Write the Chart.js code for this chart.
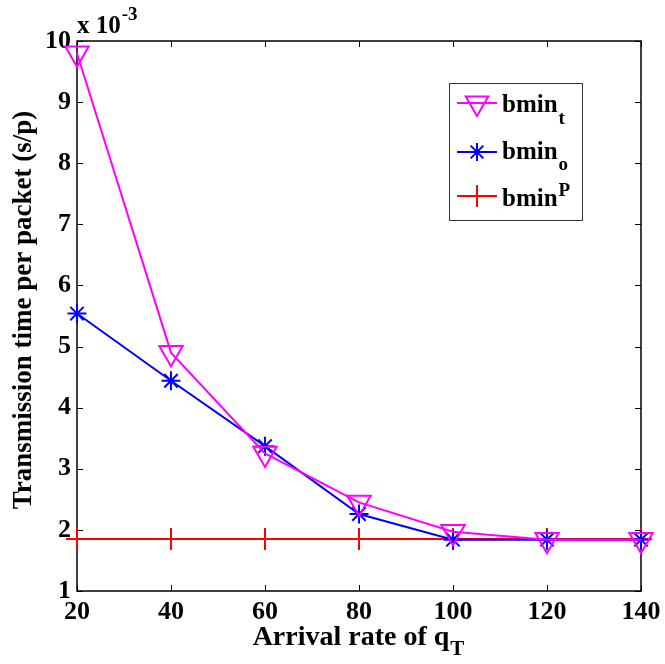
<!DOCTYPE html>
<html>
<head>
<meta charset="utf-8">
<script src="https://cdn.jsdelivr.net/npm/chart.js@4.4.1/dist/chart.umd.min.js"></script>
<style>
  html, body { margin: 0; padding: 0; background: #fff; }
  #wrap { width: 665px; height: 664px; position: relative; }
</style>
</head>
<body>
<div id="wrap"><canvas id="c" width="665" height="664"></canvas></div>
<script>
const arrivalRates = [20, 40, 60, 80, 100, 120, 140];
const bminT = [9.8, 4.9, 3.25, 2.45, 1.97, 1.84, 1.84];
const bminO = [5.54, 4.44, 3.37, 2.26, 1.84, 1.84, 1.84];
const bminP = [1.85, 1.85, 1.85, 1.85, 1.85, 1.85, 1.85];
const yTicks = [1, 2, 3, 4, 5, 6, 7, 8, 9, 10];
const xTicks = [20, 40, 60, 80, 100, 120, 140];

const SERIF = '"Liberation Serif", "Times New Roman", serif';
const MAGENTA = "#ff00ff";
const BLUE = "#0000ff";
const RED = "#ff0000";

function pts(ys) {
  return arrivalRates.map((x, i) => ({ x: x, y: ys[i] }));
}

// text with a sub/superscript tail, returns total width
function richText(ctx, x, y, base, tail, size, tailSize, tailDy, align) {
  ctx.font = "bold " + size + "px " + SERIF;
  const w1 = ctx.measureText(base).width;
  ctx.font = "bold " + tailSize + "px " + SERIF;
  const w2 = ctx.measureText(tail).width;
  let x0 = x;
  if (align === "center") x0 = x - (w1 + w2) / 2;
  ctx.textAlign = "left";
  ctx.textBaseline = "alphabetic";
  ctx.font = "bold " + size + "px " + SERIF;
  ctx.fillText(base, x0, y);
  ctx.font = "bold " + tailSize + "px " + SERIF;
  ctx.fillText(tail, x0 + w1 + 1, y + tailDy);
  return w1 + w2;
}

function marker(ctx, style, x, y, r, color) {
  ctx.save();
  ctx.strokeStyle = color;
  ctx.lineWidth = 2;
  ctx.beginPath();
  if (style === "tri") {
    ctx.moveTo(x - r * 0.866, y - r / 2);
    ctx.lineTo(x + r * 0.866, y - r / 2);
    ctx.lineTo(x, y + r);
    ctx.closePath();
  } else if (style === "star") {
    for (let k = 0; k < 4; k++) {
      const a = k * Math.PI / 4;
      ctx.moveTo(x - Math.cos(a) * r, y - Math.sin(a) * r);
      ctx.lineTo(x + Math.cos(a) * r, y + Math.sin(a) * r);
    }
  } else {
    ctx.moveTo(x - r, y); ctx.lineTo(x + r, y);
    ctx.moveTo(x, y - r); ctx.lineTo(x, y + r);
  }
  ctx.stroke();
  ctx.restore();
}

const decorations = {
  id: "decorations",
  beforeDatasetsDraw(chart) {
    const { ctx, chartArea: a, scales } = chart;
    ctx.save();
    ctx.strokeStyle = "#000";
    ctx.lineWidth = 1;
    const tl = 6;
    ctx.beginPath();
    xTicks.forEach(v => {
      const px = Math.round(scales.x.getPixelForValue(v)) + 0.5;
      ctx.moveTo(px, a.bottom); ctx.lineTo(px, a.bottom - tl);
      ctx.moveTo(px, a.top); ctx.lineTo(px, a.top + tl);
    });
    yTicks.forEach(v => {
      const py = Math.round(scales.y.getPixelForValue(v)) + 0.5;
      ctx.moveTo(a.left, py); ctx.lineTo(a.left + tl, py);
      ctx.moveTo(a.right, py); ctx.lineTo(a.right - tl, py);
    });
    ctx.stroke();
    ctx.lineWidth = 1.5;
    ctx.strokeRect(a.left, a.top, a.right - a.left, a.bottom - a.top);
    ctx.restore();
  },
  afterDraw(chart) {
    const { ctx } = chart;
    ctx.save();
    ctx.fillStyle = "#000";

    // exponent above the y axis
    richText(ctx, 77, 33, "x 10", "-3", 25, 19, -13, "left");

    // x axis title
    richText(ctx, 358, 645, "Arrival rate of q", "T", 28, 21, 10, "center");

    // y axis title
    ctx.save();
    ctx.translate(31, 310);
    ctx.rotate(-Math.PI / 2);
    ctx.font = "bold 27px " + SERIF;
    ctx.textAlign = "center";
    ctx.textBaseline = "alphabetic";
    ctx.fillText("Transmission time per packet (s/p)", 0, 0);
    ctx.restore();

    // legend
    ctx.fillStyle = "#fff";
    ctx.fillRect(449, 83, 133, 137);
    ctx.strokeStyle = "#333";
    ctx.lineWidth = 1;
    ctx.strokeRect(449.5, 83.5, 133, 137);
    const entries = [
      { color: MAGENTA, style: "tri", r: 13, base: "bmin", tail: "t", dy: 12, y: 103, by: 9 },
      { color: BLUE, style: "star", r: 9, base: "bmin", tail: "o", dy: 11, y: 152, by: 7 },
      { color: RED, style: "plus", r: 11, base: "bmin", tail: "P", dy: -10, y: 196, by: 10 }
    ];
    entries.forEach(e => {
      ctx.strokeStyle = e.color;
      ctx.lineWidth = 2;
      ctx.beginPath();
      ctx.moveTo(457, e.y); ctx.lineTo(497, e.y);
      ctx.stroke();
      marker(ctx, e.style, 477, e.y, e.r, e.color);
      ctx.fillStyle = "#000";
      richText(ctx, 502, e.y + e.by, e.base, e.tail, 25, 19, e.dy, "left");
    });
    ctx.restore();
  }
};

new Chart(document.getElementById("c"), {
  type: "line",
  data: {
    datasets: [
      {
        label: "bmin_t",
        data: pts(bminT),
        borderColor: MAGENTA,
        backgroundColor: "rgba(0,0,0,0)",
        borderWidth: 2,
        pointStyle: "triangle",
        rotation: 180,
        pointRadius: 13.5,
        pointBorderWidth: 2,
        pointBorderColor: MAGENTA,
        pointBackgroundColor: "rgba(0,0,0,0)",
        clip: false
      },
      {
        label: "bmin_o",
        data: pts(bminO),
        borderColor: BLUE,
        backgroundColor: "rgba(0,0,0,0)",
        borderWidth: 2,
        pointStyle: "star",
        pointRadius: 9.5,
        pointBorderWidth: 2,
        pointBorderColor: BLUE,
        clip: false
      },
      {
        label: "bmin_P",
        data: pts(bminP),
        borderColor: RED,
        backgroundColor: "rgba(0,0,0,0)",
        borderWidth: 2,
        pointStyle: "cross",
        pointRadius: 11,
        pointBorderWidth: 2,
        pointBorderColor: RED,
        clip: false
      }
    ]
  },
  options: {
    responsive: false,
    animation: false,
    layout: { padding: { top: 41, right: 24, left: 0, bottom: 0 } },
    plugins: { legend: { display: false }, tooltip: { enabled: false } },
    elements: { line: { tension: 0 } },
    scales: {
      x: {
        type: "linear",
        min: 20,
        max: 140,
        afterBuildTicks: s => { s.ticks = xTicks.map(v => ({ value: v })); },
        afterFit: s => { s.height = 73; },
        grid: { display: false },
        border: { display: false },
        ticks: { color: "#000", padding: -2, maxRotation: 0, font: { family: SERIF, size: 26, weight: "bold" } }
      },
      y: {
        min: 1,
        max: 10,
        afterBuildTicks: s => { s.ticks = yTicks.map(v => ({ value: v })); },
        afterFit: s => { s.width = 77; },
        grid: { display: false },
        border: { display: false },
        ticks: { color: "#000", padding: -2, font: { family: SERIF, size: 26, weight: "bold" } }
      }
    }
  },
  plugins: [decorations]
});
</script>
</body>
</html>
